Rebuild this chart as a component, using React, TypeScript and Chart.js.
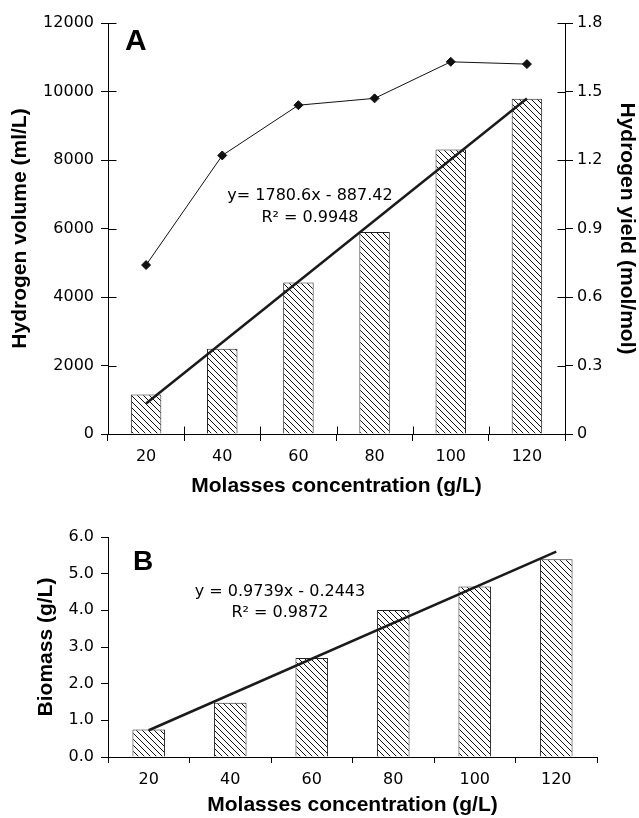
import React, { useEffect, useRef } from 'react';
import { Chart, registerables } from 'chart.js';

Chart.register(...registerables);

// ---- data ----
const categories = ['20', '40', '60', '80', '100', '120'];
const hydrogenVolume = [1150, 2490, 4420, 5900, 8310, 9790];
const hydrogenYield = [0.74, 1.22, 1.44, 1.47, 1.63, 1.62];
const trendVolume = [893, null, null, null, null, 9796];
const biomass = [0.75, 1.48, 2.7, 4.01, 4.65, 5.39];
const trendBiomass = [0.73, null, null, null, null, 5.6];
const equationA = ['y= 1780.6x - 887.42', 'R² = 0.9948'];
const equationB = ['y = 0.9739x - 0.2443', 'R² = 0.9872'];
const panelLabels = ['A', 'B'];
const xTitle = 'Molasses concentration (g/L)';
const yTitleA = 'Hydrogen volume (ml/L)';
const y1TitleA = 'Hydrogen yield (mol/mol)';
const yTitleB = 'Biomass (g/L)';

const NUM_FONT = { family: '"DejaVu Sans", Verdana, sans-serif', size: 16 };
const TITLE_FONT = { family: '"Liberation Sans", Arial, sans-serif', size: 21, weight: 'bold' as const };

function makeHatch(): CanvasPattern | string {
  const s = 6;
  const c = document.createElement('canvas');
  c.width = s;
  c.height = s;
  const g = c.getContext('2d');
  if (!g) return '#ccc';
  g.fillStyle = '#fff';
  g.fillRect(0, 0, s, s);
  g.strokeStyle = '#111';
  g.lineWidth = 1;
  g.beginPath();
  g.moveTo(-1, -1);
  g.lineTo(s + 1, s + 1);
  g.moveTo(-1, s - 1);
  g.lineTo(1, s + 1);
  g.moveTo(s - 1, -1);
  g.lineTo(s + 1, 1);
  g.stroke();
  return g.createPattern(c, 'repeat') || '#ccc';
}

const innerTicks = {
  id: 'innerTicks',
  afterDraw(chart: any, _args: any, opts: any) {
    if (!opts || !opts.length) return;
    const len = opts.length;
    const { ctx, chartArea: a } = chart;
    const al = (v: number) => Math.round(v) + 0.5;
    ctx.save();
    ctx.strokeStyle = '#000';
    ctx.lineWidth = 1;
    ctx.beginPath();
    const y = chart.scales.y;
    if (y) y.ticks.forEach((_t: any, i: number) => {
      const p = al(y.getPixelForTick(i));
      ctx.moveTo(al(a.left), p);
      ctx.lineTo(al(a.left) + len, p);
    });
    const y1 = chart.scales.y1;
    if (y1) y1.ticks.forEach((_t: any, i: number) => {
      const p = al(y1.getPixelForTick(i));
      ctx.moveTo(al(a.right), p);
      ctx.lineTo(al(a.right) - len, p);
    });
    const x = chart.scales.x;
    if (x) {
      const n = x.ticks.length;
      for (let i = 1; i < n; i++) {
        const p = al((x.getPixelForTick(i - 1) + x.getPixelForTick(i)) / 2);
        ctx.moveTo(p, al(a.bottom));
        ctx.lineTo(p, al(a.bottom) - len);
      }
    }
    ctx.stroke();
    ctx.restore();
  },
};

const annots = {
  id: 'annots',
  afterDatasetsDraw(chart: any, _args: any, opts: any) {
    if (!opts || !opts.letter) return;
    const { ctx, chartArea: a } = chart;
    ctx.save();
    ctx.fillStyle = '#000';
    ctx.textBaseline = 'alphabetic';
    ctx.textAlign = 'left';
    ctx.font = `bold ${opts.letterSize}px "Liberation Sans", Arial, sans-serif`;
    ctx.fillText(opts.letter, a.left + opts.letterDx, a.top + opts.letterDy);
    ctx.font = '16px "DejaVu Sans", Verdana, sans-serif';
    ctx.textAlign = 'center';
    opts.lines.forEach((t: string, i: number) => {
      ctx.fillText(t, a.left + opts.eqDx, a.top + opts.eqDy + i * opts.eqGap);
    });
    ctx.restore();
  },
};

export default function App() {
  const refA = useRef<HTMLCanvasElement>(null);
  const refB = useRef<HTMLCanvasElement>(null);

  useEffect(() => {
    const hatch = makeHatch();
    const gridBase = { drawOnChartArea: false, color: '#000', lineWidth: 1 };

    const chartA = new Chart(refA.current as HTMLCanvasElement, {
      type: 'bar',
      data: {
        labels: categories,
        datasets: [
          {
            type: 'line',
            data: hydrogenYield,
            yAxisID: 'y1',
            borderColor: '#111',
            borderWidth: 1,
            pointStyle: 'rectRot',
            pointRadius: 4.5,
            pointBackgroundColor: '#111',
            pointBorderColor: '#111',
            pointBorderWidth: 1,
            order: 1,
          } as any,
          {
            type: 'line',
            data: trendVolume,
            yAxisID: 'y',
            borderColor: '#1a1a1a',
            borderWidth: 2.5,
            pointRadius: 0,
            spanGaps: true,
            order: 2,
          } as any,
          {
            type: 'bar',
            data: hydrogenVolume,
            yAxisID: 'y',
            backgroundColor: hatch,
            borderColor: '#222',
            borderWidth: 1,
            barPercentage: 0.4,
            categoryPercentage: 1,
            order: 3,
          } as any,
        ],
      },
      options: {
        responsive: false,
        animation: false,
        devicePixelRatio: 1,
        layout: { padding: { top: 23, left: 0, right: 0, bottom: 0 } },
        plugins: {
          legend: { display: false },
          tooltip: { enabled: false },
          innerTicks: { length: 8 },
          annots: {
            letter: panelLabels[0], letterSize: 30, letterDx: 17, letterDy: 27,
            lines: equationA, eqDx: 202, eqDy: 177, eqGap: 22,
          },
        } as any,
        scales: {
          x: {
            grid: { ...gridBase, tickLength: 7 },
            border: { color: '#000', width: 1 },
            ticks: { font: NUM_FONT, color: '#000', padding: 6, maxRotation: 0 },
            title: { display: true, text: xTitle, font: TITLE_FONT, color: '#000', padding: { top: 0, bottom: 1 } },
            afterFit: (s: any) => { s.height = 66; },
          },
          y: {
            position: 'left',
            min: 0,
            max: 12000,
            ticks: { stepSize: 2000, font: NUM_FONT, color: '#000', padding: 7, callback: (v: any) => String(v) },
            grid: { ...gridBase, tickLength: 7 },
            border: { color: '#000', width: 1 },
            title: { display: true, text: yTitleA, font: TITLE_FONT, color: '#000', padding: { top: 8, bottom: 0 } },
            afterFit: (s: any) => { s.width = 108; },
          },
          y1: {
            position: 'right',
            min: 0,
            max: 1.8,
            ticks: {
              stepSize: 0.3, font: NUM_FONT, color: '#000', padding: 4,
              callback: (v: any) => { const r = Math.round(Number(v) * 10) / 10; return r === 0 ? '0' : r.toFixed(1); },
            },
            grid: { ...gridBase, tickLength: 8 },
            border: { color: '#000', width: 1 },
            title: { display: true, text: y1TitleA, font: TITLE_FONT, color: '#000', padding: { top: 0, bottom: 0 } },
            afterFit: (s: any) => { s.width = 74; },
          },
        },
      } as any,
      plugins: [innerTicks, annots],
    });

    const chartB = new Chart(refB.current as HTMLCanvasElement, {
      type: 'bar',
      data: {
        labels: categories,
        datasets: [
          {
            type: 'line',
            data: trendBiomass,
            borderColor: '#1a1a1a',
            borderWidth: 2.5,
            pointRadius: 0,
            spanGaps: true,
            order: 1,
          } as any,
          {
            type: 'bar',
            data: biomass,
            backgroundColor: hatch,
            borderColor: '#222',
            borderWidth: 1,
            barPercentage: 0.4,
            categoryPercentage: 1,
            order: 2,
          } as any,
        ],
      },
      options: {
        responsive: false,
        animation: false,
        devicePixelRatio: 1,
        layout: { padding: { top: 27, left: 0, right: 42, bottom: 0 } },
        plugins: {
          legend: { display: false },
          tooltip: { enabled: false },
          annots: {
            letter: panelLabels[1], letterSize: 28, letterDx: 25, letterDy: 33,
            lines: equationB, eqDx: 172, eqDy: 59, eqGap: 21,
          },
        } as any,
        scales: {
          x: {
            grid: { ...gridBase, tickLength: 6 },
            border: { color: '#000', width: 1 },
            ticks: { font: NUM_FONT, color: '#000', padding: 7, maxRotation: 0 },
            title: { display: true, text: xTitle, font: TITLE_FONT, color: '#000', padding: { top: 0, bottom: 0 } },
            afterFit: (s: any) => { s.height = 61; },
          },
          y: {
            position: 'left',
            min: 0,
            max: 6,
            ticks: { stepSize: 1, font: NUM_FONT, color: '#000', padding: 7, callback: (v: any) => Number(v).toFixed(1) },
            grid: { ...gridBase, tickLength: 7 },
            border: { color: '#000', width: 1 },
            title: { display: true, text: yTitleB, font: TITLE_FONT, color: '#000', padding: { top: 34, bottom: 0 } },
            afterFit: (s: any) => { s.width = 108; },
          },
        },
      } as any,
      plugins: [annots],
    });

    return () => {
      chartA.destroy();
      chartB.destroy();
    };
  }, []);

  return (
    <div style={{ position: 'absolute', left: 0, top: 0, width: 639, height: 818, background: '#fff' }}>
      <canvas ref={refA} width={639} height={500} style={{ position: 'absolute', left: 0, top: 0, width: 639, height: 500 }} />
      <canvas ref={refB} width={639} height={308} style={{ position: 'absolute', left: 0, top: 510, width: 639, height: 308 }} />
    </div>
  );
}
